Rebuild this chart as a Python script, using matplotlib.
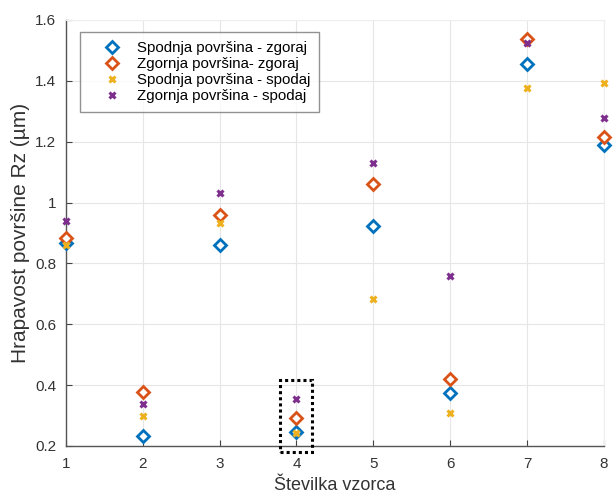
import matplotlib
matplotlib.use("Agg")
import matplotlib.pyplot as plt
from matplotlib.patches import Rectangle

plt.rcParams['font.family'] = ['Liberation Sans', 'DejaVu Sans']

samples = [1, 2, 3, 4, 5, 6, 7, 8]
spodnja_zgoraj = [0.867, 0.234, 0.86, 0.247, 0.924, 0.373, 1.457, 1.19]
zgornja_zgoraj = [0.884, 0.378, 0.959, 0.293, 1.06, 0.419, 1.537, 1.216]
spodnja_spodaj = [0.86, 0.30, 0.932, 0.244, 0.682, 0.307, 1.378, 1.392]
zgornja_spodaj = [0.94, 0.337, 1.03, 0.353, 1.129, 0.759, 1.525, 1.277]

labels = ['Spodnja površina - zgoraj', 'Zgornja površina- zgoraj',
          'Spodnja površina - spodaj', 'Zgornja površina - spodaj']
colors = ['#0072BD', '#D95319', '#EDB120', '#7E2F8E']

fig = plt.figure(figsize=(6.13, 4.95), dpi=100)
ax = fig.add_axes([0.1077, 0.099, 0.8773, 0.8606])

ax.plot(samples, spodnja_zgoraj, linestyle='none', marker='D', markersize=6.5,
        markerfacecolor='white', markeredgecolor=colors[0], markeredgewidth=2.0,
        label=labels[0], zorder=3, clip_on=False)
ax.plot(samples, zgornja_zgoraj, linestyle='none', marker='D', markersize=6.5,
        markerfacecolor='white', markeredgecolor=colors[1], markeredgewidth=2.0,
        label=labels[1], zorder=3, clip_on=False)
ax.plot(samples, spodnja_spodaj, linestyle='none', marker='x', markersize=4.5,
        color=colors[2], markeredgewidth=2.2, label=labels[2], zorder=4,
        clip_on=False)
ax.plot(samples, zgornja_spodaj, linestyle='none', marker='x', markersize=4.5,
        color=colors[3], markeredgewidth=2.2, label=labels[3], zorder=4,
        clip_on=False)

# highlight box around sample 4
ax.add_patch(Rectangle((3.78, 0.18), 0.42, 0.237, fill=False, edgecolor='black',
                       linestyle=(0, (1, 1)), linewidth=2.2, clip_on=False, zorder=5))

ax.set_xlim(1, 8)
ax.set_ylim(0.2, 1.6)
ax.set_xticks(samples)
ax.set_yticks([0.2, 0.4, 0.6, 0.8, 1.0, 1.2, 1.4, 1.6])
ax.set_yticklabels(['0.2', '0.4', '0.6', '0.8', '1', '1.2', '1.4', '1.6'])
ax.grid(True, color='#e6e6e6', linewidth=0.8)
ax.set_axisbelow(True)
ax.tick_params(direction='in', length=4, labelsize=11, colors='#444444',
               labelcolor='#333333')
ax.tick_params(axis='x', pad=8)
ax.tick_params(axis='y', pad=7)
for side in ['left', 'bottom']:
    ax.spines[side].set_color('#555555')
    ax.spines[side].set_linewidth(1.0)
for side in ['top', 'right']:
    ax.spines[side].set_color('#eeeeee')
    ax.spines[side].set_linewidth(0.8)

ax.set_xlabel('Številka vzorca', fontsize=13, color='#333333', labelpad=4)
ax.set_ylabel('Hrapavost površine Rz (µm)', fontsize=15, color='#333333', labelpad=4)

leg = ax.legend(loc='upper left', bbox_to_anchor=(80 / 613, 1 - 32 / 495),
                bbox_transform=fig.transFigure, fontsize=10.8, frameon=True,
                fancybox=False, edgecolor='#777777', borderpad=0.6,
                handlelength=3.0, handletextpad=0.2, labelspacing=0.14,
                borderaxespad=0)
leg.get_frame().set_linewidth(1.0)

fig.savefig('out.png', dpi=100)
